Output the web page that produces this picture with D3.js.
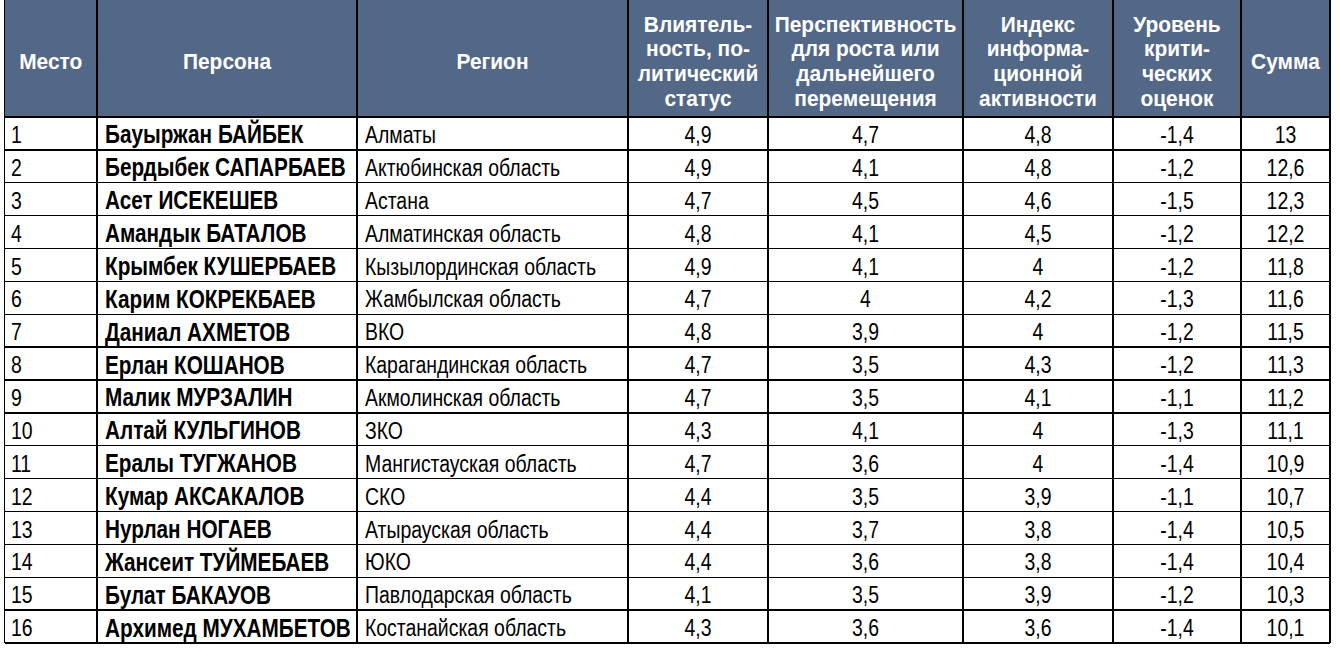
<!DOCTYPE html>
<html>
<head>
<meta charset="utf-8">
<script src="https://cdn.jsdelivr.net/npm/d3@7"></script>
<style>
  html, body { margin: 0; padding: 0; background: #fff; }
  svg { display: block; }
  text { font-family: "Liberation Sans", Arial, sans-serif; }
</style>
</head>
<body>
<div id="table"></div>
<script>
// ── Data ───────────────────────────────────────────────────────────────────

var headers = [
  ['Место'],
  ['Персона'],
  ['Регион'],
  ['Влиятель-', 'ность, по-', 'литический', 'статус'],
  ['Перспективность', 'для роста или', 'дальнейшего', 'перемещения'],
  ['Индекс', 'информа-', 'ционной', 'активности'],
  ['Уровень', 'крити-', 'ческих', 'оценок'],
  ['Сумма']
];

var ranks = ['1', '2', '3', '4', '5', '6', '7', '8', '9', '10', '11', '12', '13', '14', '15', '16'];

var persons = [
  'Бауыржан БАЙБЕК', 'Бердыбек САПАРБАЕВ', 'Асет ИСЕКЕШЕВ', 'Амандык БАТАЛОВ',
  'Крымбек КУШЕРБАЕВ', 'Карим КОКРЕКБАЕВ', 'Даниал АХМЕТОВ', 'Ерлан КОШАНОВ',
  'Малик МУРЗАЛИН', 'Алтай КУЛЬГИНОВ', 'Ералы ТУГЖАНОВ', 'Кумар АКСАКАЛОВ',
  'Нурлан НОГАЕВ', 'Жансеит ТУЙМЕБАЕВ', 'Булат БАКАУОВ', 'Архимед МУХАМБЕТОВ'
];

var regions = [
  'Алматы', 'Актюбинская область', 'Астана', 'Алматинская область',
  'Кызылординская область', 'Жамбылская область', 'ВКО', 'Карагандинская область',
  'Акмолинская область', 'ЗКО', 'Мангистауская область', 'СКО',
  'Атырауская область', 'ЮКО', 'Павлодарская область', 'Костанайская область'
];

var influence   = [4.9, 4.9, 4.7, 4.8, 4.9, 4.7, 4.8, 4.7, 4.7, 4.3, 4.7, 4.4, 4.4, 4.4, 4.1, 4.3];
var prospects   = [4.7, 4.1, 4.5, 4.1, 4.1, 4.0, 3.9, 3.5, 3.5, 4.1, 3.6, 3.5, 3.7, 3.6, 3.5, 3.6];
var infoIndex   = [4.8, 4.8, 4.6, 4.5, 4.0, 4.2, 4.0, 4.3, 4.1, 4.0, 4.0, 3.9, 3.8, 3.8, 3.9, 3.6];
var criticism   = [-1.4, -1.2, -1.5, -1.2, -1.2, -1.3, -1.2, -1.2, -1.1, -1.3, -1.4, -1.1, -1.4, -1.4, -1.2, -1.4];
var totals      = [13, 12.6, 12.3, 12.2, 11.8, 11.6, 11.5, 11.3, 11.2, 11.1, 10.9, 10.7, 10.5, 10.4, 10.3, 10.1];

// ── Layout ─────────────────────────────────────────────────────────────────

var W = 1340, H = 650;
var colEdges = [4.5, 97, 357, 628, 768, 963, 1113, 1241, 1330];
var headerTop = 0, headerBottom = 117, tableBottom = 643;
var headerFill = '#536887';
// no Arial Narrow in the sandbox, so Liberation Sans gets squeezed horizontally
var fontSize = 24, narrow = 0.81;
var boldSize = 25, boldNarrow = 0.83;
var headFont = 22.5, headNarrow = 0.93, headLine = 24.7;

var fmt = function(v) { return String(v).replace('.', ','); };

var rows = ranks.map(function(r, i) {
  return [r, persons[i], regions[i], fmt(influence[i]), fmt(prospects[i]),
          fmt(infoIndex[i]), fmt(criticism[i]), fmt(totals[i])];
});

// left-aligned for text columns, centered for numbers
var align = ['start', 'start', 'start', 'middle', 'middle', 'middle', 'middle', 'middle'];
var isBold = [false, true, false, false, false, false, false, false];
var padLeft = [6.5, 8, 8];

var y = d3.scaleBand().domain(ranks).range([headerBottom, tableBottom]);

// ── Rendering ──────────────────────────────────────────────────────────────

var svg = d3.select('#table').append('svg')
  .attr('width', W)
  .attr('height', H);

svg.append('rect')
  .attr('x', colEdges[0]).attr('y', headerTop)
  .attr('width', colEdges[colEdges.length - 1] - colEdges[0])
  .attr('height', headerBottom - headerTop)
  .attr('fill', headerFill);

// header text
var hg = svg.append('g').attr('fill', '#fff').attr('font-weight', 'bold').attr('font-size', headFont);
headers.forEach(function(lines, c) {
  var cx = (colEdges[c] + colEdges[c + 1]) / 2;
  var cy = (headerTop + headerBottom) / 2 + 2;
  var t = hg.append('text')
    .attr('text-anchor', 'middle')
    .attr('transform', 'translate(' + cx + ',' + cy + ') scale(' + headNarrow + ',1)');
  lines.forEach(function(line, k) {
    t.append('tspan')
      .attr('x', 0)
      .attr('y', (k - (lines.length - 1) / 2) * headLine)
      .attr('dy', '0.36em')
      .text(line);
  });
});

// body text
var bg = svg.append('g').attr('fill', '#000');
rows.forEach(function(row, i) {
  var yc = y(ranks[i]) + y.bandwidth() / 2;
  row.forEach(function(val, c) {
    var x = align[c] === 'start' ? colEdges[c] + padLeft[c] : (colEdges[c] + colEdges[c + 1]) / 2;
    var sx = isBold[c] ? boldNarrow : narrow;
    bg.append('text')
      .attr('transform', 'translate(' + x + ',' + yc + ') scale(' + sx + ',1)')
      .attr('dy', '0.4em')
      .attr('text-anchor', align[c])
      .attr('font-size', isBold[c] ? boldSize : fontSize)
      .attr('font-weight', isBold[c] ? 'bold' : 'normal')
      .text(val);
  });
});

// grid lines
var grid = svg.append('g').attr('stroke', '#000').attr('stroke-width', 1.3).attr('shape-rendering', 'crispEdges');
colEdges.forEach(function(x) {
  grid.append('line')
    .attr('x1', x).attr('x2', x)
    .attr('y1', headerTop).attr('y2', tableBottom);
});
var hLines = [headerBottom].concat(ranks.map(function(r) { return y(r) + y.bandwidth(); }));
hLines.forEach(function(yy) {
  grid.append('line')
    .attr('x1', colEdges[0]).attr('x2', colEdges[colEdges.length - 1])
    .attr('y1', yy).attr('y2', yy);
});
</script>
</body>
</html>
